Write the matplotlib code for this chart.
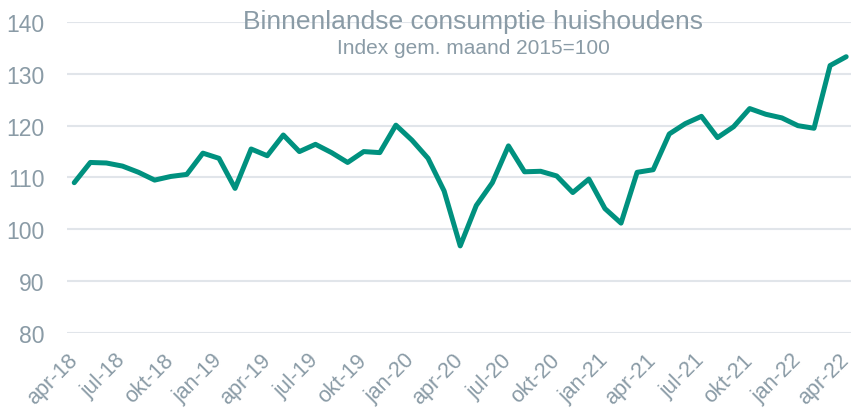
import matplotlib.pyplot as plt

months = ['apr', 'mei', 'jun', 'jul', 'aug', 'sep', 'okt', 'nov', 'dec', 'jan', 'feb', 'mrt']
labels = []
for i in range(49):
    m = months[i % 12]
    year = 18 + (i + 3) // 12
    labels.append(f'{m}-{year}')

consumptie = [109.0, 112.9, 112.8, 112.2, 111.0, 109.5, 110.2, 110.6, 114.7, 113.7,
              107.9, 115.5, 114.2, 118.2, 115.0, 116.4, 114.8, 112.9, 115.0, 114.8,
              120.1, 117.2, 113.7, 107.4, 96.8, 104.6, 109.0, 116.1, 111.1, 111.2,
              110.3, 107.1, 109.7, 104.0, 101.2, 111.0, 111.5, 118.4, 120.4, 121.8,
              117.7, 119.8, 123.3, 122.2, 121.5, 120.0, 119.5, 131.6, 133.3]

title = 'Binnenlandse consumptie huishoudens'
subtitle = 'Index gem. maand 2015=100'

plt.rcParams['font.family'] = ['Liberation Sans', 'DejaVu Sans']
label_color = '#8a9ba6'

fig = plt.figure(figsize=(8.51, 4.14), dpi=100)
ax = fig.add_axes([67 / 851, 1 - 334 / 414, 784 / 851, 311 / 414])

x = list(range(len(consumptie)))
ax.plot(x, consumptie, color='#00917f', lw=3.6, solid_joinstyle='round',
        solid_capstyle='round', zorder=3)

ax.set_ylim(80, 140)
ax.set_xlim(-0.45, 48.3)
ax.set_yticks(range(80, 141, 10))
ax.yaxis.grid(True, color='#e1e5ea', lw=1.5)
ax.set_axisbelow(True)

ax.set_xticks(x[::3])
ax.set_xticklabels(labels[::3], rotation=45, ha='right', va='center',
                   rotation_mode='anchor')

for side in ax.spines:
    ax.spines[side].set_visible(False)
ax.tick_params(axis='both', length=0, colors=label_color)
ax.tick_params(axis='y', labelsize=16.5, pad=16)
ax.tick_params(axis='x', labelsize=15.5, pad=17)

fig.text(0.556, 0.947, title, ha='center', va='center', fontsize=19, color=label_color)
fig.text(0.556, 0.884, subtitle, ha='center', va='center', fontsize=15, color=label_color)

fig.savefig('out.png', dpi=100)
